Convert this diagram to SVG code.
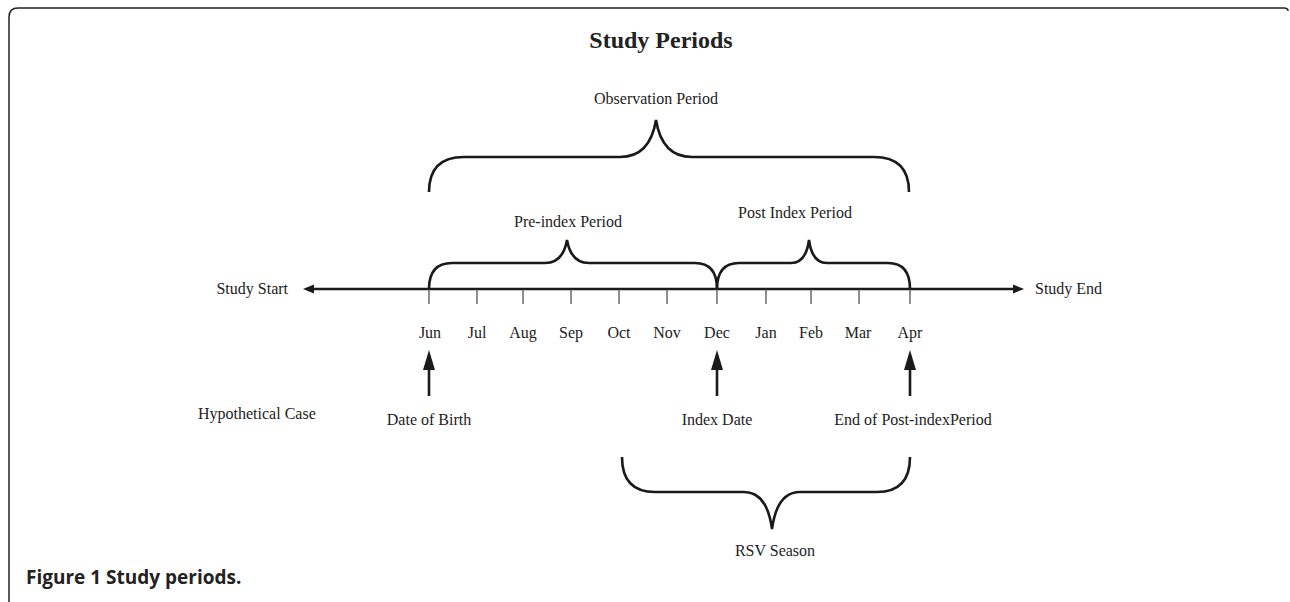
<svg xmlns="http://www.w3.org/2000/svg" width="1290" height="602" viewBox="0 0 1290 602">
<style>
.t{font-family:"Liberation Serif","Times New Roman",serif;font-size:16px;fill:#222}
.m{text-anchor:middle}
.br{fill:none;stroke:#1a1a1a;stroke-width:2.6;stroke-linecap:butt}
.tick{stroke:#444;stroke-width:1.2}
.ax{stroke:#1a1a1a;stroke-width:2.6}
.hd{fill:#1a1a1a}
</style>
<rect width="1290" height="602" fill="#fff"/>
<path d="M9,602 L9,17 Q9,8 18,8 L1284,8 Q1288,8 1288,11" fill="none" stroke="#222" stroke-width="1.5"/>
<text x="661" y="48" class="m" style="font-family:'Liberation Serif',serif;font-size:24px;font-weight:bold;fill:#222">Study Periods</text>

<g id="connectors">
<line class="ax" x1="310" y1="289" x2="1016" y2="289"/>
<polygon class="hd" points="303,289 314,284.5 314,293.5"/>
<polygon class="hd" points="1024,289 1013,284.5 1013,293.5"/>
<g class="tick">
<line x1="429" y1="289" x2="429" y2="304"/>
<line x1="477" y1="289" x2="477" y2="304"/>
<line x1="523" y1="289" x2="523" y2="304"/>
<line x1="571" y1="289" x2="571" y2="304"/>
<line x1="619" y1="289" x2="619" y2="304"/>
<line x1="667" y1="289" x2="667" y2="304"/>
<line x1="717" y1="289" x2="717" y2="304"/>
<line x1="766" y1="289" x2="766" y2="304"/>
<line x1="811" y1="289" x2="811" y2="304"/>
<line x1="859" y1="289" x2="859" y2="304"/>
<line x1="910" y1="289" x2="910" y2="304"/>
</g>
<line class="ax" x1="429" y1="396" x2="429" y2="365"/>
<polygon class="hd" points="429,350 423,370 435,370"/>
<line class="ax" x1="717" y1="396" x2="717" y2="365"/>
<polygon class="hd" points="717,350 711,370 723,370"/>
<line class="ax" x1="910" y1="396" x2="910" y2="365"/>
<polygon class="hd" points="910,350 904,370 916,370"/>
</g>

<g id="observation-period">
<path class="br" d="M429,192 Q429,157 464,157 L620,157 Q650,157 656,120 Q662,157 692,157 L874,157 Q909,157 909,192"/>
<text x="656" y="104" class="t m">Observation Period</text>
</g>
<g id="pre-index-period">
<path class="br" d="M429,289 Q429,263 452,263 L545,263 Q563,263 567,240 Q571,263 589,263 L695,263 Q717,263 717,289"/>
<text x="568" y="227" class="t m">Pre-index Period</text>
</g>
<g id="post-index-period">
<path class="br" d="M717,289 Q717,263 739,263 L791,263 Q806,263 809,240 Q812,263 827,263 L888,263 Q910,263 910,289"/>
<text x="795" y="218" class="t m">Post Index Period</text>
</g>
<g id="study-start"><text x="288" y="294" class="t" text-anchor="end">Study Start</text></g>
<g id="study-end"><text x="1035" y="294" class="t">Study End</text></g>
<g id="months" class="t m">
<text x="430" y="338">Jun</text>
<text x="477" y="338">Jul</text>
<text x="523" y="338">Aug</text>
<text x="571" y="338">Sep</text>
<text x="619" y="338">Oct</text>
<text x="667" y="338">Nov</text>
<text x="717" y="338">Dec</text>
<text x="766" y="338">Jan</text>
<text x="811" y="338">Feb</text>
<text x="858" y="338">Mar</text>
<text x="910" y="338">Apr</text>
</g>
<g id="hypothetical-case"><text x="198" y="419" class="t">Hypothetical Case</text></g>
<g id="date-of-birth"><text x="429" y="425" class="t m">Date of Birth</text></g>
<g id="index-date"><text x="717" y="425" class="t m">Index Date</text></g>
<g id="end-post-index"><text x="913" y="425" class="t m">End of Post-indexPeriod</text></g>
<g id="rsv-season">
<path class="br" d="M622,457 Q622,492 655,492 L744,492 Q767,492 772,529 Q777,492 800,492 L877,492 Q910,492 910,457"/>
<text x="775" y="556" class="t m">RSV Season</text>
</g>
<text x="26" y="584" style="font-family:'Open Sans','Noto Sans',sans-serif;font-size:19px;font-weight:bold;fill:#222">Figure 1 Study periods.</text>
</svg>
